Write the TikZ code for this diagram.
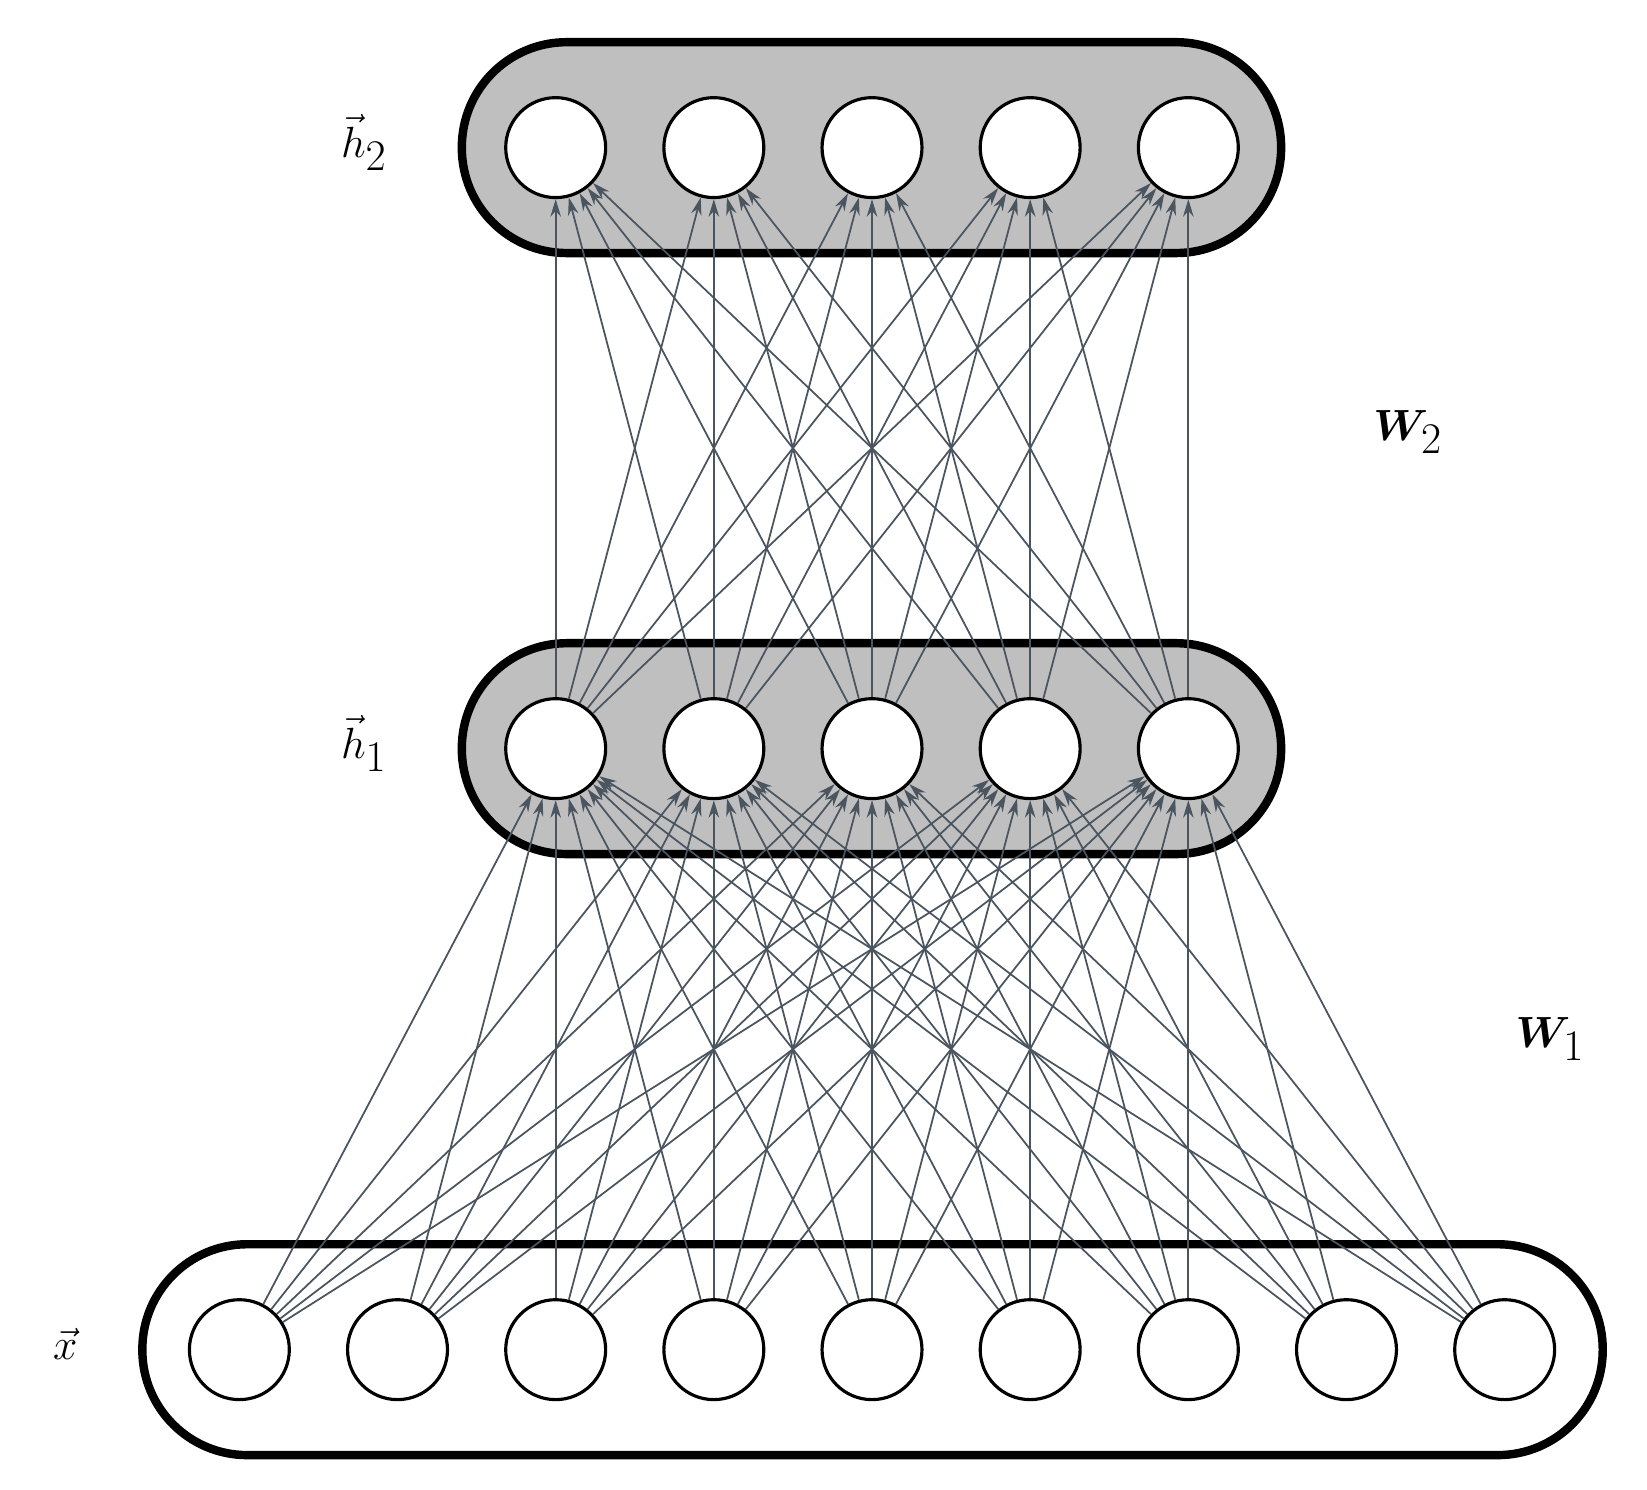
\documentclass[tikz,border=0pt]{standalone}
\usepackage{amsmath,bm}
\usetikzlibrary{arrows.meta}
\definecolor{edge}{HTML}{4A5560}
\begin{document}
\begin{tikzpicture}[x=0.0211cm,y=-0.0211cm,
  neuron/.style={circle,draw=black,fill=white,line width=1.8pt,minimum size=2.0cm,inner sep=0pt},
  layer/.style={draw=black,line width=4.8pt,rounded corners=2.1cm},
  conn/.style={draw=edge,line width=1pt,-{Stealth[length=10pt,width=6pt]}},
  lab/.style={font=\fontsize{64}{68}\selectfont}]
\useasboundingbox (0,0) rectangle (1562,1413);
\fill[white] (0,0) rectangle (1562,1413);
\draw[layer,fill=black!25] (438,40) rectangle (1215,240);
\draw[layer,fill=black!25] (438,610) rectangle (1215,810);
\draw[layer,fill=white] (135,1180) rectangle (1520,1380);
\foreach \i in {1,...,9} \node[neuron] (x\i) at ({77+150*\i},1280) {};
\foreach \i in {1,...,5} {
  \node[neuron] (a\i) at ({377+150*\i},710) {};
  \node[neuron] (b\i) at ({377+150*\i},140) {};
}
\foreach \i in {1,...,9} \foreach \j in {1,...,5} \draw[conn] (x\i) -- (a\j);
\foreach \i in {1,...,5} \foreach \j in {1,...,5} \draw[conn] (a\i) -- (b\j);
\node[lab] (lh2) at (345,135) {$\vec{h}_2$};
\node[lab] (lh1) at (345,705) {$\vec{h}_1$};
\node[lab] (lx) at (62,1275) {$\vec{x}$};
\node[lab] (w2) at (1335,410) {$\bm{W}_2$};
\node[lab] (w1) at (1470,985) {$\bm{W}_1$};
\end{tikzpicture}
\end{document}
